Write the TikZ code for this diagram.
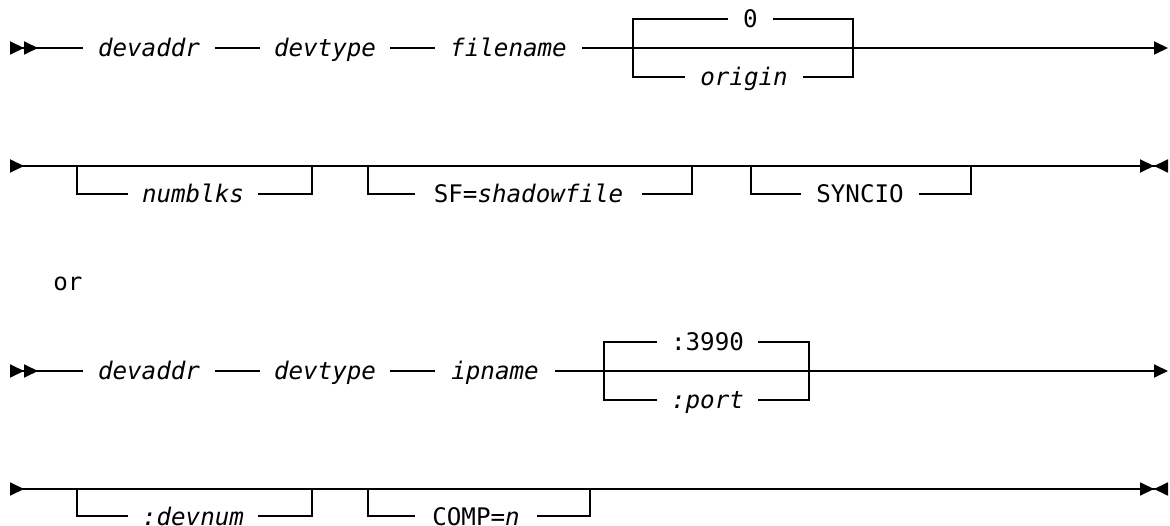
\documentclass[tikz,border=0pt]{standalone}
\usepackage{fontspec}
\newfontfamily\dmono{DejaVu Sans Mono}
\usetikzlibrary{arrows.meta}
\tikzset{
  syntri/.tip={Triangle[length=14pt,width=13pt]},
  synrev/.tip={Triangle[length=14pt,width=13pt,reversed]}
}
\begin{document}
\begin{tikzpicture}[x=1pt,y=-1pt,
  rail/.style={line width=1.8pt, line cap=butt, line join=miter},
  lbl/.style={font=\dmono\fontsize{24.2}{29}\selectfont, inner xsep=0pt, inner ysep=0pt,
              text height=18pt, text depth=0pt, anchor=center},
  lblit/.style={lbl, font=\dmono\fontsize{24.2}{29}\selectfont\itshape}
]
\useasboundingbox (0,0) rectangle (1170,526);

% ---------- Row 1 ----------
\coordinate (s1) at (10,48);
\coordinate (e1) at (1168,48);
\node[lblit, minimum width=132pt] (r1a) at (149,48) {devaddr};
\node[lblit, minimum width=130pt] (r1b) at (325,48) {devtype};
\node[lblit, minimum width=147pt] (r1c) at (508.5,48) {filename};
\coordinate (b1l) at (633,48);
\coordinate (b1r) at (853,48);
\node[lbl, minimum width=45pt] (r1d) at (750.5,19) {0};
\node[lblit, minimum width=118pt] (r1e) at (744,77) {origin};
\draw[rail, {synrev[]synrev[]}-] (s1) -- (r1a);
\draw[rail] (r1a) -- (r1b);
\draw[rail] (r1b) -- (r1c);
\draw[rail, -{syntri[]}] (r1c) -- (e1);
\draw[rail] (b1l) |- (r1d);
\draw[rail] (r1d) -| (b1r);
\draw[rail] (b1l) |- (r1e);
\draw[rail] (r1e) -| (b1r);

% ---------- Row 2 ----------
\coordinate (s2) at (10,166);
\coordinate (e2) at (1168,166);
\draw[rail, {synrev[]}-{syntri[]synrev[]}] (s2) -- (e2);
\coordinate (b2a) at (77,166);
\coordinate (b2b) at (312,166);
\coordinate (b2c) at (368,166);
\coordinate (b2d) at (692,166);
\coordinate (b2e) at (751,166);
\coordinate (b2f) at (971,166);
\node[lblit, minimum width=130pt] (r2a) at (193,194) {numblks};
\node[lbl, minimum width=227pt] (r2b) at (528.5,194) {SF=\textit{shadowfile}};
\node[lbl, minimum width=118pt] (r2c) at (860,194) {SYNCIO};
\draw[rail] (b2a) |- (r2a);
\draw[rail] (r2a) -| (b2b);
\draw[rail] (b2c) |- (r2b);
\draw[rail] (r2b) -| (b2d);
\draw[rail] (b2e) |- (r2c);
\draw[rail] (r2c) -| (b2f);

% ---------- or ----------
\node[lbl] (orlbl) at (68,281.5) {or};

% ---------- Row 3 ----------
\coordinate (s3) at (10,371);
\coordinate (e3) at (1168,371);
\node[lblit, minimum width=132pt] (r3a) at (149,371) {devaddr};
\node[lblit, minimum width=130pt] (r3b) at (325,371) {devtype};
\node[lblit, minimum width=120pt] (r3c) at (495,371) {ipname};
\coordinate (b3l) at (604,371);
\coordinate (b3r) at (809,371);
\node[lbl, minimum width=101pt] (r3d) at (707.5,342) {:3990};
\node[lblit, minimum width=101pt] (r3e) at (707.5,400) {:port};
\draw[rail, {synrev[]synrev[]}-] (s3) -- (r3a);
\draw[rail] (r3a) -- (r3b);
\draw[rail] (r3b) -- (r3c);
\draw[rail, -{syntri[]}] (r3c) -- (e3);
\draw[rail] (b3l) |- (r3d);
\draw[rail] (r3d) -| (b3r);
\draw[rail] (b3l) |- (r3e);
\draw[rail] (r3e) -| (b3r);

% ---------- Row 4 ----------
\coordinate (s4) at (10,489);
\coordinate (e4) at (1168,489);
\draw[rail, {synrev[]}-{syntri[]synrev[]}] (s4) -- (e4);
\coordinate (b4a) at (77,489);
\coordinate (b4b) at (312,489);
\coordinate (b4c) at (368,489);
\coordinate (b4d) at (590,489);
\node[lblit, minimum width=130pt] (r4a) at (193,516) {:devnum};
\node[lbl, minimum width=122pt] (r4b) at (476,516) {COMP=\textit{n}};
\draw[rail] (b4a) |- (r4a);
\draw[rail] (r4a) -| (b4b);
\draw[rail] (b4c) |- (r4b);
\draw[rail] (r4b) -| (b4d);
\end{tikzpicture}
\end{document}
